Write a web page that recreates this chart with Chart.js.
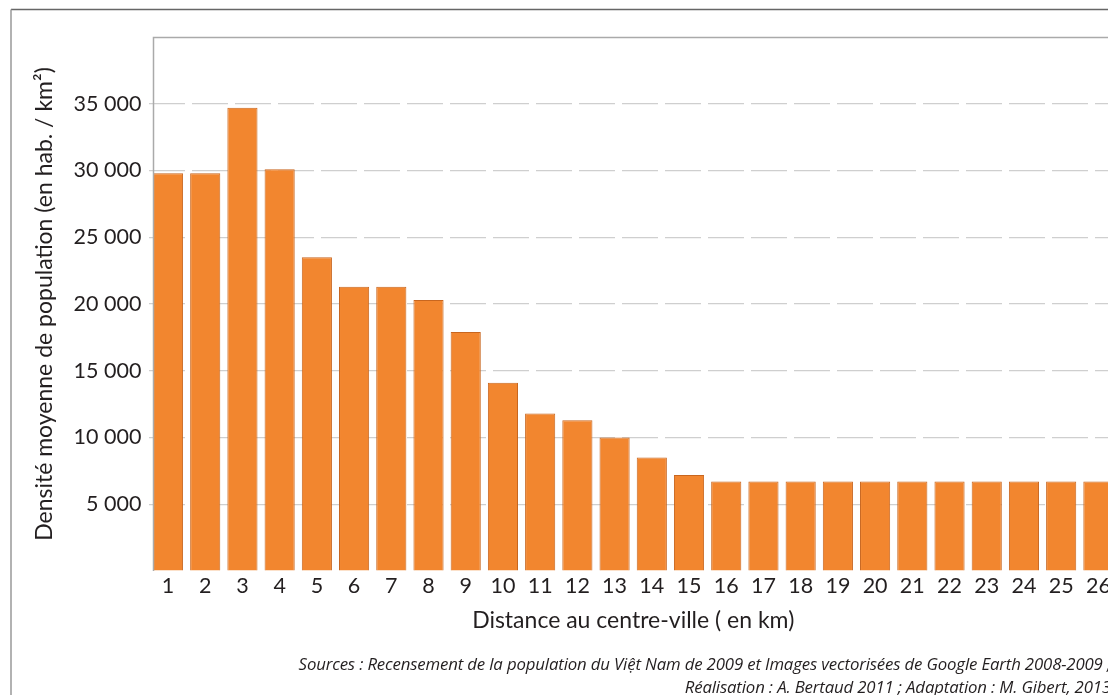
<!DOCTYPE html>
<html>
<head>
<meta charset="utf-8">
<script src="https://cdn.jsdelivr.net/npm/chart.js@4/dist/chart.umd.min.js"></script>
<style>
  body { margin: 0; background: #fff; }
  #wrap { position: relative; width: 1108px; height: 695px; overflow: hidden; }
  #box { position: absolute; left: 0; top: 0; width: 1120px; height: 695px; }
  .src { position: absolute; right: -3px; font-family: "Open Sans", sans-serif; font-style: italic;
         font-size: 16.8px; color: #231f20; white-space: nowrap; letter-spacing: -0.15px; }
</style>
</head>
<body>
<div id="wrap">
  <div id="box"><canvas id="densite-chart"></canvas></div>
  <div class="src" style="top:652px">Sources : Recensement de la population du Việt Nam de 2009 et Images vectorisées de Google Earth 2008-2009 ;</div>
  <div class="src" style="top:675px">Réalisation : A. Bertaud 2011 ; Adaptation : M. Gibert, 2013</div>
</div>
<script>
// distance au centre-ville (km)
const distances = ["1", "2", "3", "4", "5", "6", "7", "8", "9", "10", "11", "12", "13",
  "14", "15", "16", "17", "18", "19", "20", "21", "22", "23", "24", "25", "26"];
// densité moyenne (hab./km²)
const densites = [29800, 29800, 34700, 30100, 23500, 21300, 21300, 20300, 17900, 14100,
  11800, 11300, 10000, 8500, 7200, 6700, 6700, 6700, 6700, 6700, 6700, 6700, 6700, 6700, 6700, 6700];
// graduations affichées
const yTicks = [5000, 10000, 15000, 20000, 25000, 30000, 35000];

const textColor = '#231f20';

// cadres dessinés autour du graphique
const framePlugin = {
  id: 'frames',
  afterDraw(chart) {
    const ctx = chart.ctx;
    const area = chart.chartArea;
    const bar0 = chart.getDatasetMeta(0).data[0];
    const x0 = Math.round(bar0.x - bar0.width / 2) + 0.5;
    ctx.save();
    // cadre extérieur
    ctx.strokeStyle = '#666';
    ctx.lineWidth = 1.5;
    ctx.beginPath();
    ctx.moveTo(11, 9.5);
    ctx.lineTo(chart.width, 9.5);
    ctx.stroke();
    ctx.strokeStyle = '#999';
    ctx.beginPath();
    ctx.moveTo(11, 9.5);
    ctx.lineTo(11, chart.height);
    ctx.stroke();
    // cadre de la zone de tracé
    ctx.strokeStyle = '#aaa';
    ctx.lineWidth = 1.5;
    ctx.beginPath();
    ctx.moveTo(chart.width, area.top + 0.5);
    ctx.lineTo(x0, area.top + 0.5);
    ctx.lineTo(x0, area.bottom);
    ctx.stroke();
    ctx.restore();
  }
};

document.addEventListener('DOMContentLoaded', function() {
  const ctx = document.getElementById('densite-chart').getContext('2d');
  new Chart(ctx, {
    type: 'bar',
    data: {
      labels: distances,
      datasets: [{
        label: 'Densité moyenne',
        data: densites,
        backgroundColor: '#f2862f',
        borderColor: '#c8661f',
        borderWidth: 1,
        barPercentage: 0.81,
        categoryPercentage: 1
      }]
    },
    options: {
      responsive: true,
      maintainAspectRatio: false,
      animation: false,
      layout: { padding: { left: 0, right: 3, top: 37, bottom: 0 } },
      plugins: {
        legend: { display: false },
        tooltip: { enabled: false }
      },
      scales: {
        x: {
          grid: { display: false, drawTicks: false },
          border: { display: false },
          ticks: {
            color: textColor,
            padding: 2,
            maxRotation: 0,
            autoSkip: false,
            font: { family: 'Lato, sans-serif', size: 21.5 }
          },
          title: {
            display: true,
            text: 'Distance au centre-ville ( en km)',
            color: textColor,
            font: { family: 'Lato, sans-serif', size: 23 },
            padding: { top: 0, bottom: 61 }
          },
          afterFit(scale) { scale.height = 124; }
        },
        y: {
          min: 0,
          max: 40000,
          afterBuildTicks(scale) {
            scale.ticks = [0].concat(yTicks, [40000]).map(v => ({ value: v }));
          },
          grid: {
            drawTicks: false,
            color: c => yTicks.includes(c.tick.value) ? '#cfcfcf' : 'rgba(0,0,0,0)',
            lineWidth: 1.2
          },
          border: { display: false, dash: [36, 7] },
          ticks: {
            color: textColor,
            padding: 8,
            font: { family: 'Lato, sans-serif', size: 21.5 },
            callback: v => yTicks.includes(v) ? String(v).replace(/\B(?=(\d{3})+$)/g, ' ') : ''
          },
          title: {
            display: true,
            text: 'Densité moyenne de population (en hab. / km²)',
            color: textColor,
            font: { family: 'Lato, sans-serif', size: 23 },
            padding: { top: 31, bottom: 0 }
          },
          afterFit(scale) { scale.width = 149.4; }
        }
      }
    },
    plugins: [framePlugin]
  });
});
</script>
</body>
</html>
